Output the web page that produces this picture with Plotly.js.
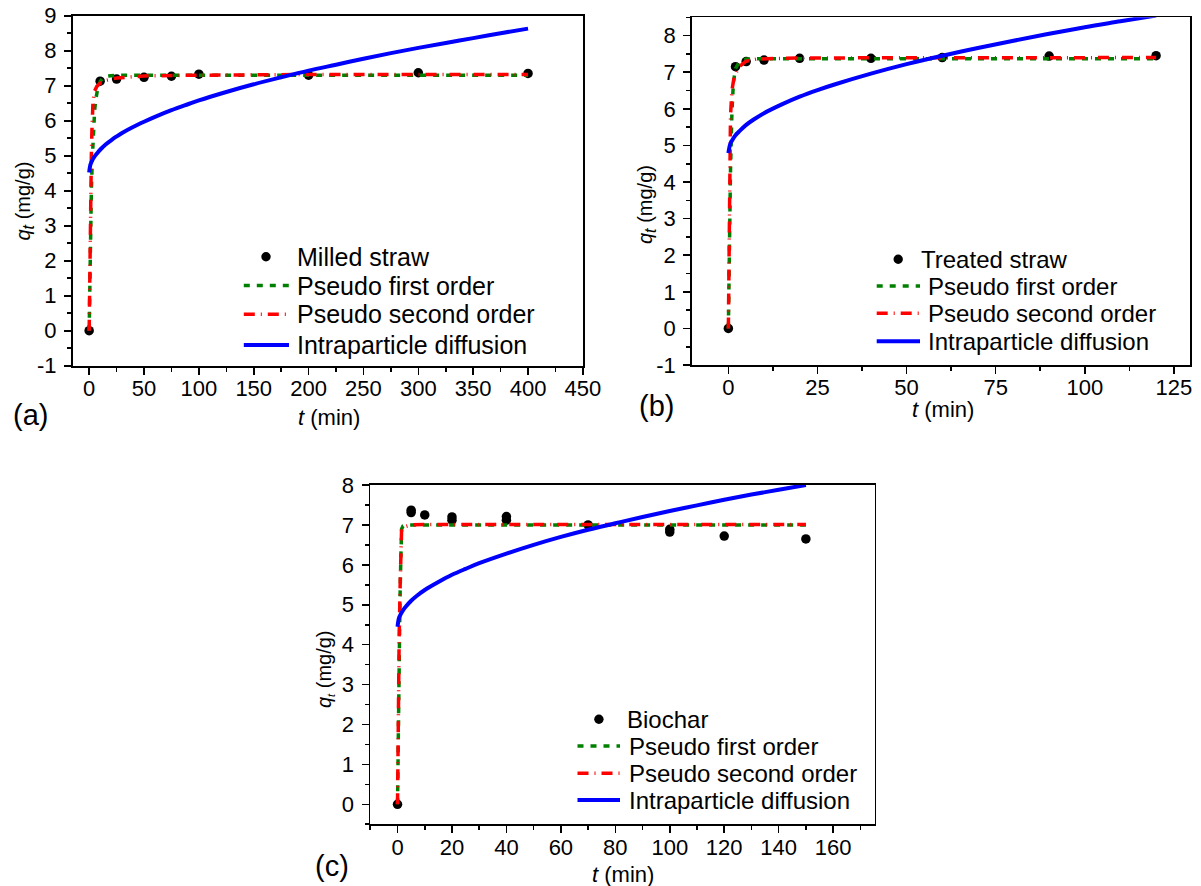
<!DOCTYPE html>
<html>
<head>
<meta charset="utf-8">
<script src="https://cdn.plot.ly/plotly-3.0.1.min.js"></script>
<style>html,body{margin:0;padding:0;background:#fff;}#chart{width:1201px;height:886px;}</style>
</head>
<body>
<div id="chart"></div>
<script>
// ---------- Panel (a): Milled straw ----------
const aExpT = [0, 10, 25, 50, 75, 100, 200, 300, 400];
const aExpQ = [0, 7.13, 7.19, 7.24, 7.27, 7.33, 7.30, 7.37, 7.35];
const aPfoT = [0, 0.5, 1, 1.5, 2, 3, 4, 5, 6, 8, 10, 12, 16, 25, 400];
const aPfoQ = [0, 1.2, 2.3, 3.2, 4.0, 5.0, 5.8, 6.3, 6.6, 6.95, 7.12, 7.2, 7.27, 7.3, 7.3];
const aPsoT = [0, 0.5, 1, 1.5, 2, 2.5, 3, 3.5, 5, 7, 10, 15, 25, 50, 100, 200, 400];
const aPsoQ = [0, 1.8, 3.2, 4.2, 5.0, 5.7, 6.2, 6.55, 6.85, 6.98, 7.07, 7.15, 7.22, 7.28, 7.30, 7.32, 7.32];
const aIpdT = [0, 1, 2, 3, 5, 7, 10, 15, 20, 25, 30, 40, 50, 60, 75, 90, 100, 125, 150, 175, 200, 225, 250, 275, 300, 325, 350, 375, 400];
const aIpdQ = [4.52, 4.73, 4.81, 4.88, 4.98, 5.06, 5.17, 5.32, 5.44, 5.55, 5.65, 5.82, 5.97, 6.11, 6.30, 6.47, 6.58, 6.82, 7.04, 7.24, 7.43, 7.60, 7.77, 7.93, 8.08, 8.22, 8.36, 8.50, 8.63];

// ---------- Panel (b): Treated straw ----------
const bExpT = [0, 2, 5, 10, 20, 40, 60, 90, 120];
const bExpQ = [0, 7.15, 7.29, 7.33, 7.38, 7.38, 7.40, 7.44, 7.45];
const bPfoT = [0, 0.3, 0.6, 1, 1.4, 2, 3, 4, 5, 8, 120];
const bPfoQ = [0, 2.5, 4.3, 5.9, 6.7, 7.1, 7.27, 7.33, 7.36, 7.37, 7.37];
const bPsoT = [0, 0.3, 0.6, 1, 1.5, 2, 3, 5, 8, 20, 120];
const bPsoQ = [0, 4.0, 5.8, 6.5, 6.8, 6.95, 7.15, 7.30, 7.36, 7.39, 7.40];
const bIpdT = [0, 0.5, 1, 2, 3, 5, 7, 10, 15, 20, 25, 30, 40, 50, 60, 70, 80, 90, 100, 110, 120];
const bIpdQ = [4.79, 5.03, 5.13, 5.28, 5.38, 5.56, 5.70, 5.88, 6.12, 6.33, 6.51, 6.67, 6.96, 7.22, 7.45, 7.66, 7.86, 8.05, 8.23, 8.39, 8.55];

// ---------- Panel (c): Biochar ----------
const cExpT = [0, 5, 5, 10, 20, 20, 40, 40, 70, 100, 100, 120, 150];
const cExpQ = [0, 7.37, 7.31, 7.25, 7.20, 7.12, 7.21, 7.12, 7.00, 6.89, 6.82, 6.72, 6.65];
const cPfoT = [0, 0.3, 0.6, 0.9, 1.2, 1.5, 2, 3, 150];
const cPfoQ = [0, 2.2, 3.9, 5.1, 6.1, 6.9, 6.97, 7.0, 7.0];
const cPsoT = [0, 0.3, 0.6, 1, 1.5, 3, 5, 10, 150];
const cPsoQ = [0, 2.5, 4.2, 5.6, 6.9, 6.96, 7.0, 7.01, 7.01];
const cIpdT = [0, 0.5, 1, 2, 3, 5, 7, 10, 15, 20, 25, 30, 40, 50, 60, 70, 80, 90, 100, 110, 120, 130, 140, 150];
const cIpdQ = [4.45, 4.66, 4.74, 4.86, 4.95, 5.10, 5.22, 5.37, 5.57, 5.75, 5.90, 6.04, 6.28, 6.50, 6.70, 6.88, 7.04, 7.20, 7.35, 7.49, 7.63, 7.76, 7.88, 8.00];

// ---------- Ticks & labels ----------
const aXTicks = [0, 50, 100, 150, 200, 250, 300, 350, 400, 450];
const aYTicks = [-1, 0, 1, 2, 3, 4, 5, 6, 7, 8, 9];
const aYText = ['-1', '0', '1', '2', '3', '4', '5', '6', '7', '8', '9'];
const bXTicks = [0, 25, 50, 75, 100, 125];
const bYTicks = [-1, 0, 1, 2, 3, 4, 5, 6, 7, 8];
const bYText = ['-1', '0', '1', '2', '3', '4', '5', '6', '7', '8'];
const cXTicks = [0, 20, 40, 60, 80, 100, 120, 140, 160];
const cYTicks = [0, 1, 2, 3, 4, 5, 6, 7, 8];
const cYText = ['0', '1', '2', '3', '4', '5', '6', '7', '8'];
const seriesNames = ['Pseudo first order', 'Pseudo second order', 'Intraparticle diffusion'];
const sampleNames = ['Milled straw', 'Treated straw', 'Biochar'];

const W = 1201, H = 886;
const FONT = 'Liberation Sans, Arial, Helvetica, sans-serif';
const GREEN = '#008000', RED = '#ff0000', BLUE = '#0000ff';
const GREEN_DASH = '6px,7px', RED_DASH = '11px,6px,1px,6px';
const px = x => x / W, py = y => 1 - y / H;

function panelTraces(xa, ya, et, eq, t1, q1, t2, q2, t3, q3) {
  return [
    {x: et, y: eq, xaxis: xa, yaxis: ya, mode: 'markers', type: 'scatter',
     marker: {color: '#000', size: 9.5}, showlegend: false, cliponaxis: true},
    {x: t1, y: q1, xaxis: xa, yaxis: ya, mode: 'lines', type: 'scatter',
     line: {color: GREEN, width: 3.5, dash: GREEN_DASH}, showlegend: false},
    {x: t2, y: q2, xaxis: xa, yaxis: ya, mode: 'lines', type: 'scatter',
     line: {color: RED, width: 3.5, dash: RED_DASH}, showlegend: false},
    {x: t3, y: q3, xaxis: xa, yaxis: ya, mode: 'lines', type: 'scatter', line: {color: BLUE, width: 4, shape: 'spline'}, showlegend: false}
  ];
}

const data = [].concat(
  panelTraces('x', 'y', aExpT, aExpQ, aPfoT, aPfoQ, aPsoT, aPsoQ, aIpdT, aIpdQ),
  panelTraces('x2', 'y2', bExpT, bExpQ, bPfoT, bPfoQ, bPsoT, bPsoQ, bIpdT, bIpdQ),
  panelTraces('x3', 'y3', cExpT, cExpQ, cPfoT, cPfoQ, cPsoT, cPsoQ, cIpdT, cIpdQ)
);

function xAxis(domain, range, ticks, minorDtick, anchor) {
  return {domain: domain, range: range, anchor: anchor, tickmode: 'array', tickvals: ticks,
    ticktext: ticks.map(String), ticks: 'outside', ticklen: 7, tickwidth: 1.6, tickcolor: '#000',
    showline: true, linewidth: 1.8, linecolor: '#000', mirror: true, showgrid: false, zeroline: false,
    tickfont: {family: FONT, size: 22, color: '#000'}, ticklabelstandoff: -5,
    minor: {dtick: minorDtick, tick0: 0, ticks: 'outside', ticklen: 4, tickwidth: 1.6, tickcolor: '#000', showgrid: false},
    fixedrange: true};
}
function yAxis(domain, range, ticks, text, anchor) {
  return {domain: domain, range: range, anchor: anchor, tickmode: 'array', tickvals: ticks, ticktext: text,
    ticks: 'outside', ticklen: 7, tickwidth: 1.6, tickcolor: '#000',
    showline: true, linewidth: 1.8, linecolor: '#000', mirror: true, showgrid: false, zeroline: false,
    tickfont: {family: FONT, size: 22, color: '#000'}, ticklabelstandoff: 3,
    minor: {dtick: 0.5, tick0: 0, ticks: 'outside', ticklen: 4, tickwidth: 1.6, tickcolor: '#000', showgrid: false},
    fixedrange: true};
}

const annotations = [];
const shapes = [];
function ann(x, y, text, size, opts) {
  annotations.push(Object.assign({xref: 'paper', yref: 'paper', x: px(x), y: py(y), text: text,
    showarrow: false, font: {family: FONT, size: size, color: '#000'}, xanchor: 'center', yanchor: 'middle'}, opts || {}));
}
function legendBlock(mx, rows, textX1, textX, lx0, lx1, size, name) {
  shapes.push({type: 'circle', xref: 'paper', yref: 'paper', x0: px(mx - 4.7), x1: px(mx + 4.7),
    y0: py(rows[0] + 4.7), y1: py(rows[0] - 4.7), fillcolor: '#000', line: {width: 0}});
  const styles = [{color: GREEN, width: 3.5, dash: GREEN_DASH}, {color: RED, width: 3.5, dash: RED_DASH}, {color: BLUE, width: 4}];
  for (let i = 0; i < 3; i++) {
    shapes.push({type: 'line', xref: 'paper', yref: 'paper', x0: px(lx0), x1: px(lx1), y0: py(rows[i + 1]), y1: py(rows[i + 1]), line: styles[i]});
  }
  ann(textX1, rows[0], name, size, {xanchor: 'left'});
  for (let i = 0; i < 3; i++) ann(textX, rows[i + 1], seriesNames[i], size, {xanchor: 'left'});
}

// legends
legendBlock(266, [256.7, 285.5, 314.3, 345], 295, 295, 243.8, 289, 25, sampleNames[0]);
legendBlock(898.2, [259.3, 286, 313.3, 341.3], 918.5, 925.5, 876.7, 920, 24, sampleNames[1]);
legendBlock(598.9, [719.3, 746, 773.3, 800], 625, 627, 577.5, 620, 24, sampleNames[2]);

// axis titles
const xTitle = '<i>t</i> (min)';
ann(328.5, 417, xTitle, 22);
ann(943, 409, xTitle, 22);
ann(622.5, 874.5, xTitle, 22);
const yTitleBig = '<i>q<sub><span style="font-size:16px">t</span></sub></i> (mg/g)';
ann(23.5, 201, yTitleBig, 20, {textangle: -90});
ann(646, 205, yTitleBig, 20, {textangle: -90});
ann(325, 669, '<i>q<sub><span style="font-size:11px">t</span></sub></i> (mg/g)', 20, {textangle: -90});
// panel labels
ann(30.5, 415, '(a)', 29);
ann(656.5, 406, '(b)', 29);
ann(332, 866, '(c)', 29);

const layout = {
  width: W, height: H, margin: {l: 0, r: 0, t: 0, b: 0},
  paper_bgcolor: '#fff', plot_bgcolor: '#fff', showlegend: false,
  font: {family: FONT, color: '#000'},
  xaxis: xAxis([px(72.7), px(582.9)], [-15, 450], aXTicks, 25, 'y'),
  yaxis: yAxis([py(365.7), py(15.7)], [-1, 9], aYTicks, aYText, 'x'),
  xaxis2: xAxis([px(692), px(1190.3)], [-10.2, 129.6], bXTicks, 12.5, 'y2'),
  yaxis2: yAxis([py(365), py(17.3)], [-1, 8.5], bYTicks, bYText, 'x2'),
  xaxis3: xAxis([px(370.3), px(874.5)], [-10, 175.2], cXTicks, 10, 'y3'),
  yaxis3: yAxis([py(824.3), py(485)], [-0.5, 8], cYTicks, cYText, 'x3'),
  annotations: annotations, shapes: shapes
};

Plotly.newPlot('chart', data, layout, {displayModeBar: false, staticPlot: true});
</script>
</body>
</html>
